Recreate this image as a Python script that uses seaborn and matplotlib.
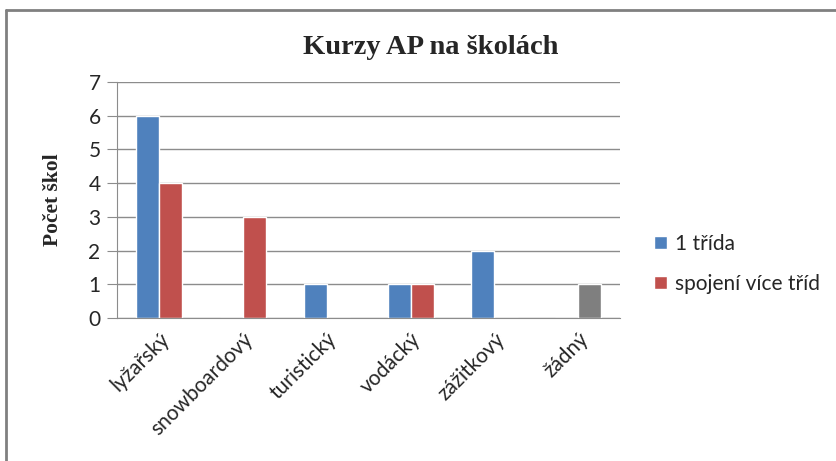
import matplotlib
matplotlib.use("Agg")
import matplotlib.pyplot as plt
from matplotlib.lines import Line2D
import pandas as pd
import seaborn as sns

# data
kurzy = ["lyžařský", "snowboardový", "turistický", "vodácký", "zážitkový", "žádný"]
jedna_trida = [6, 0, 1, 1, 2, 0]
vice_trid = [4, 3, 0, 1, 0, 1]
serie = ["1 třída", "spojení více tříd"]

df = pd.DataFrame({
    "kurz": kurzy * 2,
    "pocet": jedna_trida + vice_trid,
    "serie": [serie[0]] * len(kurzy) + [serie[1]] * len(kurzy),
})

sns.set_style("white")
plt.rcParams["font.family"] = ["Lato", "DejaVu Sans"]

fig = plt.figure(figsize=(8.37, 4.61), dpi=100)
ax = fig.add_axes([0.140, 0.310, 0.601, 0.512])

sns.barplot(data=df, x="kurz", y="pocet", hue="serie", order=kurzy,
            hue_order=serie, palette=["#4f81bd", "#c0504d"], width=0.55,
            saturation=1, ax=ax, legend=True)

# "žádný" bar is drawn grey in the original
last = len(kurzy) - 1
for p in ax.patches:
    if p.get_height() > 0 and last - 0.01 < p.get_x() < last + 0.5:
        p.set_facecolor("#7f7f7f")

ax.set_ylim(0, 7)
ax.set_yticks(range(0, 8))
ax.yaxis.grid(True, color="#8c8c8c", linewidth=1)
ax.set_axisbelow(True)
for s in ["top", "right"]:
    ax.spines[s].set_visible(False)
ax.spines["left"].set_color("#8c8c8c")
ax.spines["bottom"].set_color("#8c8c8c")
ax.tick_params(axis="y", length=7, color="#8c8c8c", labelsize=15, left=True,
               pad=5)
ax.tick_params(axis="x", length=0, labelsize=15, pad=8)
plt.setp(ax.get_xticklabels(), rotation=45, ha="right", rotation_mode="anchor")

ax.set_xlabel("")
ax.set_ylabel("Počet škol", family=["Liberation Serif"], fontweight="bold",
              fontsize=15.5, labelpad=18)
fig.suptitle("Kurzy AP na školách", family=["Liberation Serif"],
             fontweight="bold", fontsize=20.5, x=0.515, y=0.925)

ax.legend(loc="center left", bbox_to_anchor=(1.03, 0.23), frameon=False,
          fontsize=15, handlelength=0.6, handleheight=0.6, labelspacing=0.95,
          handletextpad=0.4)

# outer chart frame (extends past right and bottom edges)
fig.add_artist(Line2D([0.007, 0.007], [0.0, 0.978], color="#808080",
                      linewidth=2, transform=fig.transFigure))
fig.add_artist(Line2D([0.007, 1.0], [0.978, 0.978], color="#808080",
                      linewidth=2, transform=fig.transFigure))

fig.savefig("out.png", dpi=100)
